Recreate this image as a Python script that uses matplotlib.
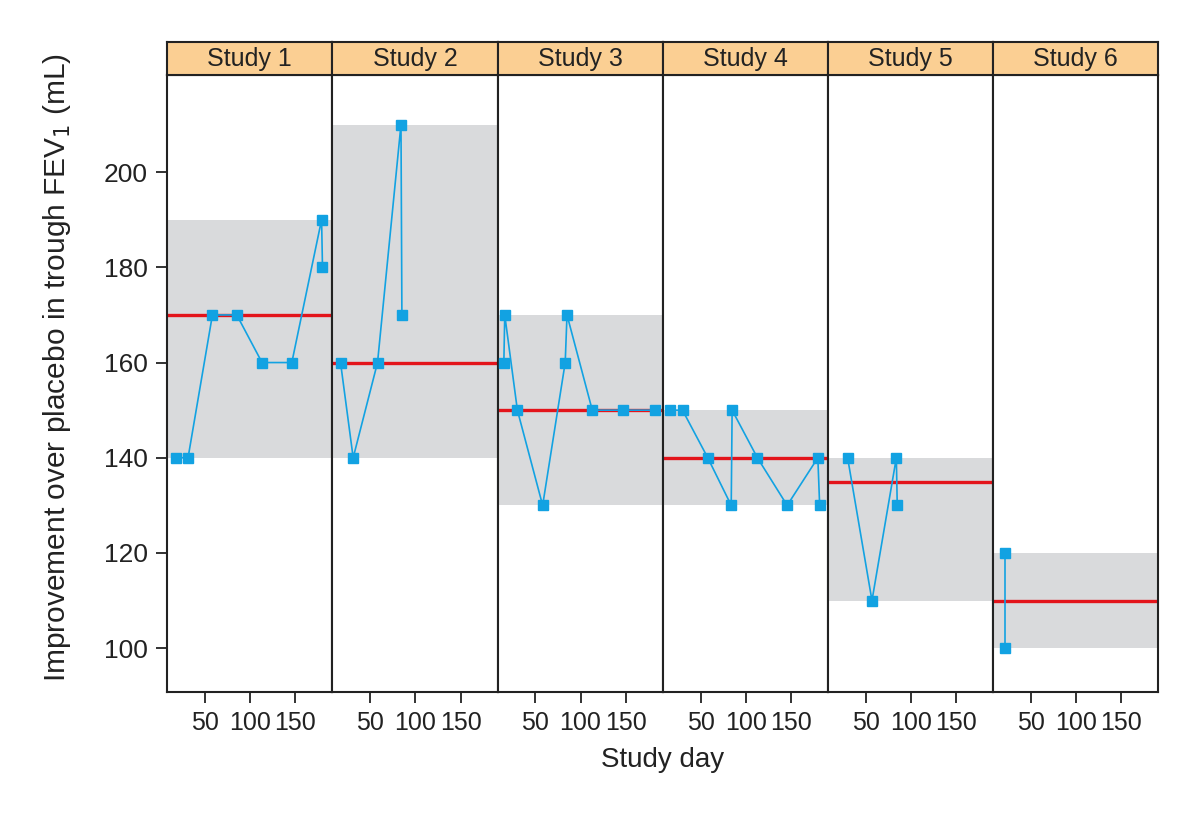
import matplotlib

matplotlib.use("Agg")
import matplotlib.pyplot as plt

plt.rcParams["font.family"] = ["Liberation Sans", "DejaVu Sans"]

# Data
studies = ["Study 1", "Study 2", "Study 3", "Study 4", "Study 5", "Study 6"]
days = [
    [18, 31, 58, 85, 113, 146, 179, 180],
    [17, 31, 58, 84, 85],
    [15, 16, 30, 58, 83, 85, 113, 147, 182],
    [16, 30, 58, 84, 85, 113, 146, 180, 182],
    [30, 57, 84, 85],
    [21, 21],
]
improvement = [
    [140, 140, 170, 170, 160, 160, 190, 180],
    [160, 140, 160, 210, 170],
    [160, 170, 150, 130, 160, 170, 150, 150, 150],
    [150, 150, 140, 130, 150, 140, 130, 140, 130],
    [140, 110, 140, 130],
    [120, 100],
]
band_low = [140, 140, 130, 130, 110, 100]
band_high = [190, 210, 170, 150, 140, 120]
overall = [170, 160, 150, 140, 135, 110]

x_ticks = [50, 100, 150]
y_ticks = [100, 120, 140, 160, 180, 200]

LINE_BLUE = "#12A2E2"
RED = "#E3141B"
BAND = "#D9DADC"
STRIP = "#FBCF93"
INK = "#222222"

fig = plt.figure(figsize=(12, 8.16), dpi=100)
W, H = 1200, 816
left, right = 167.3, 1158.0
top, bottom = 75.0, 692.0
strip_top = 42.0
pw = (right - left) / len(studies)

for i, name in enumerate(studies):
    x0 = left + i * pw
    ax = fig.add_axes([x0 / W, 1 - bottom / H, pw / W, (bottom - top) / H])
    ax.axhspan(band_low[i], band_high[i], color=BAND, lw=0, zorder=1)
    ax.axhline(overall[i], color=RED, lw=2.4, zorder=2)
    ax.plot(days[i], improvement[i], color=LINE_BLUE, lw=1.2, marker="s",
            ms=6.5, mec=LINE_BLUE, mfc=LINE_BLUE, zorder=3)
    ax.set_xlim(8, 191)
    ax.set_ylim(90.8, 220.4)
    ax.set_xticks(x_ticks)
    ax.set_yticks(y_ticks)
    ax.tick_params(axis="both", direction="out", length=8, width=1.3,
                   pad=6, colors=INK)
    ax.tick_params(axis="x", labelsize=18)
    ax.tick_params(axis="y", labelsize=19)
    if i > 0:
        ax.tick_params(axis="y", left=False, labelleft=False)
    for sp in ax.spines.values():
        sp.set_linewidth(1.5)
        sp.set_color(INK)

    sax = fig.add_axes([x0 / W, 1 - top / H, pw / W, (top - strip_top) / H])
    sax.set_facecolor(STRIP)
    sax.set_xticks([])
    sax.set_yticks([])
    for sp in sax.spines.values():
        sp.set_linewidth(1.5)
        sp.set_color(INK)
    sax.text(0.5, 0.48, name, ha="center", va="center", fontsize=18,
             color=INK, transform=sax.transAxes)

fig.text(57 / W, 1 - 368 / H,
         "Improvement over placebo in trough FEV$_1$ (mL)",
         rotation=90, ha="center", va="center", fontsize=21.5, color=INK)
fig.text((left + right) / 2 / W, 1 - 760 / H, "Study day", ha="center",
         va="center", fontsize=20, color=INK)

fig.savefig("out.png", dpi=100)
